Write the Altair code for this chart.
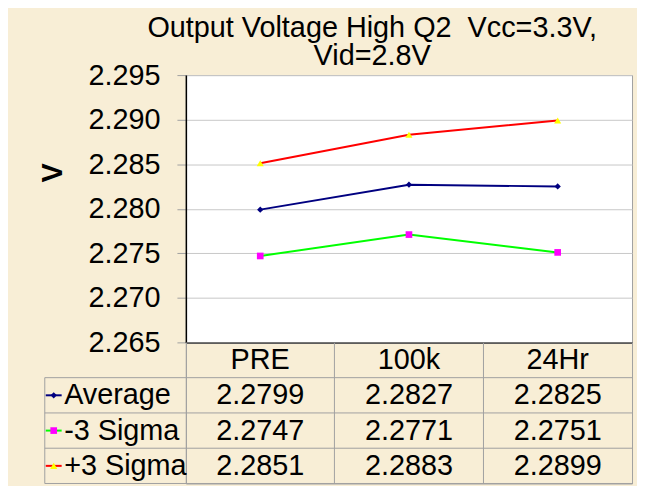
import altair as alt
import pandas as pd

categories = ["PRE", "100k", "24Hr"]
series_names = ["Average", "-3 Sigma", "+3 Sigma"]
average = [2.2799, 2.2827, 2.2825]
minus3 = [2.2747, 2.2771, 2.2751]
plus3 = [2.2851, 2.2883, 2.2899]
y_ticks = [2.265, 2.270, 2.275, 2.280, 2.285, 2.290, 2.295]
title_lines = ["Output Voltage High Q2\u00a0 Vcc=3.3V,", "Vid=2.8V"]

line_colors = ["#000080", "#00FF00", "#FF0000"]
marker_colors = ["#000080", "#FF00FF", "#FFFF00"]
marker_shapes = ["diamond", "square", "triangle-up"]
marker_sizes = [40, 50, 70]

FONT = "Liberation Sans"
FS = 29
W, H, TH = 449, 269, 142
GRID = "#a0a0a0"

rows = []
for name, vals in zip(series_names, [average, minus3, plus3]):
    for c, v in zip(categories, vals):
        rows.append({"series": name, "cat": c, "value": v, "label": f"{v:.4f}"})
df = pd.DataFrame(rows)
ser_df = pd.DataFrame({"series": series_names})
hdr_df = pd.DataFrame({"cat": categories, "series": ["hdr"] * len(categories)})

color_scale = alt.Scale(domain=series_names, range=line_colors)
fill_scale = alt.Scale(domain=series_names, range=marker_colors)
shape_scale = alt.Scale(domain=series_names, range=marker_shapes)
size_scale = alt.Scale(domain=series_names, range=marker_sizes)

# ---------- top chart ----------
xs = alt.X("cat:N", sort=categories,
           scale=alt.Scale(type="point", padding=0.5, domain=categories),
           axis=alt.Axis(labels=False, ticks=False, title=None, grid=False,
                         domainColor="black", domainWidth=1.5))
ys = alt.Y("value:Q",
           scale=alt.Scale(domain=[2.265, 2.295], zero=False, nice=False),
           axis=alt.Axis(values=y_ticks, format=".3f", title="V",
                         labelFontSize=FS, labelColor="black", labelPadding=17,
                         tickSize=9, tickColor="#a0a0a0", domainColor="black",
                         domainWidth=1.5, gridColor="#c8c8c8", grid=True,
                         titleFontSize=29, titleFontWeight="bold", titleColor="black",
                         titleX=-134, titleY=98, titleAlign="center",
                         titleBaseline="middle"))

lines = alt.Chart(df).mark_line(strokeWidth=2).encode(
    x=xs, y=ys,
    color=alt.Color("series:N", scale=color_scale, legend=None),
)
points = alt.Chart(df).mark_point(filled=True, opacity=1).encode(
    x=xs, y=ys,
    fill=alt.Fill("series:N", scale=fill_scale, legend=None),
    shape=alt.Shape("series:N", scale=shape_scale, legend=None),
    size=alt.Size("series:N", scale=size_scale, legend=None),
)
top = alt.layer(lines, points).properties(
    width=W, height=H,
    view=alt.ViewBackground(fill="white", stroke=GRID, strokeWidth=1),
    title=alt.TitleParams(text=title_lines, fontSize=29, font=FONT,
                          fontWeight="normal", color="black", anchor="middle",
                          frame="group", dx=-37, offset=-10, lineHeight=28),
)

# ---------- data table ----------
row_domain = ["hdr"] + series_names
ty_scale = alt.Scale(type="band", domain=row_domain, paddingInner=0, paddingOuter=0)
tx_scale = alt.Scale(type="band", domain=categories, paddingInner=0, paddingOuter=0)
tx = alt.X("cat:N", scale=tx_scale,
           axis=alt.Axis(grid=True, bandPosition=0, labels=False, ticks=False,
                         domain=False, title=None, gridColor=GRID))
ty_axis = alt.Axis(labelExpr="datum.value == 'hdr' ? '' : datum.value",
                   labelAlign="left", labelPadding=123, ticks=False,
                   domain=False, title=None, labelFontSize=FS,
                   labelColor="black", labelBaseline="middle", labelLimit=0)
ty = alt.Y("series:N", scale=ty_scale, axis=ty_axis)

header = alt.Chart(hdr_df).mark_text(fontSize=FS, color="black").encode(
    x=tx, y=ty, text="cat:N")

values = alt.Chart(df).mark_text(fontSize=FS, color="black").encode(
    x=tx, y=ty, text="label:N")

row_lines = alt.Chart(ser_df).mark_rule(color=GRID, strokeWidth=1).encode(
    y=alt.Y("series:N", scale=ty_scale, axis=ty_axis, bandPosition=0),
    x=alt.value(-142), x2=alt.value(W))
bottom_line = alt.Chart(ser_df.tail(1)).mark_rule(color=GRID, strokeWidth=1).encode(
    y=alt.Y("series:N", scale=ty_scale, axis=ty_axis, bandPosition=1),
    x=alt.value(-142), x2=alt.value(W))
left_line = alt.Chart(ser_df.head(1)).mark_rule(color=GRID, strokeWidth=1).encode(
    y=alt.Y("series:N", scale=ty_scale, axis=ty_axis, bandPosition=0),
    y2=alt.value(TH), x=alt.value(-142))

key_lines = alt.Chart(ser_df).mark_rule(strokeWidth=2).encode(
    y=alt.Y("series:N", scale=ty_scale, axis=ty_axis, bandPosition=0.5),
    x=alt.value(-141), x2=alt.value(-125),
    color=alt.Color("series:N", scale=color_scale, legend=None))
key_points = alt.Chart(ser_df).mark_point(filled=True, opacity=1).encode(
    y=alt.Y("series:N", scale=ty_scale, axis=ty_axis, bandPosition=0.5),
    x=alt.value(-133),
    fill=alt.Fill("series:N", scale=fill_scale, legend=None),
    shape=alt.Shape("series:N", scale=shape_scale, legend=None),
    size=alt.Size("series:N", scale=size_scale, legend=None))

table = alt.layer(values, header, row_lines, bottom_line, left_line,
                  key_lines, key_points).properties(width=W, height=TH)

chart = alt.vconcat(top, table, spacing=0, bounds="flush").properties(
    padding={"left": 30, "top": 4, "right": 4, "bottom": 0},
).configure(
    background="#F8EED6", font=FONT,
).configure_view(stroke=GRID, strokeWidth=1).configure_axis(
    labelFont=FONT, titleFont=FONT)

chart.save("out.html", embed_options={"renderer": "svg", "actions": False})
